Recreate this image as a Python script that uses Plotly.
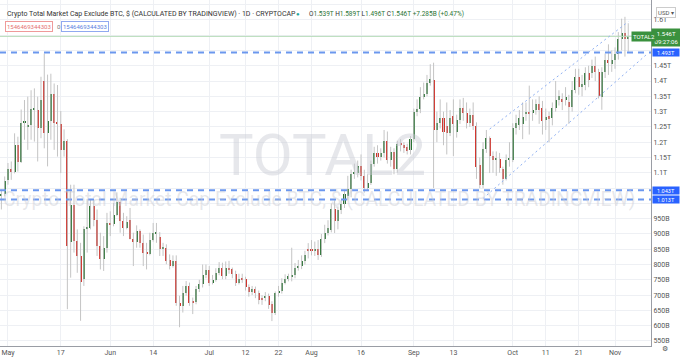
import pandas as pd
import plotly.graph_objects as go

# ---------------- data (values in billions USD) ----------------
start_date = "2021-04-29"
opens = [1027,1032,1075,1114,1101,1190,1134,1264,1251,1256,1306,1305,1245,1400,1231,1269,1359,1264,1260,1175,
         1204,874,996,877,828,752,917,920,990,947,860,817,855,936,931,963,1004,942,920,944,
         884,873,911,871,839,836,879,902,891,852,855,814,795,811,674,665,708,730,681,678,
         719,736,765,782,739,750,771,790,761,790,784,768,741,754,752,728,711,719,706,692,
         692,698,670,643,706,714,741,754,760,765,790,795,811,847,847,844,852,830,884,903,
         914,981,941,979,999,1025,1046,1096,1100,1122,1090,1050,1068,1129,1166,1153,1166,1205,1142,1169,
         1112,1196,1191,1185,1174,1212,1299,1307,1348,1359,1394,1405,1240,1263,1278,1253,1231,1285,1234,1272,
         1313,1296,1263,1288,1253,1125,1060,1177,1213,1154,1141,1145,1112,1080,1141,1143,1246,1257,1260,1295,
         1300,1297,1306,1325,1311,1273,1286,1278,1311,1338,1340,1338,1333,1314,1371,1414,1381,1387,1427,1427,
         1449,1430,1347,1430,1468,1457,1468,1490,1536,1557,1539]
highs = [1045,1088,1132,1137,1229,1218,1307,1338,1349,1370,1376,1349,1414,1490,1421,1424,1392,1387,1302,1242,
         1210,1061,1061,915,871,925,1014,1012,1012,980,904,893,969,974,1001,1036,1018,969,958,985,
         904,928,915,898,871,904,936,936,906,871,866,833,830,830,698,730,746,741,692,730,
         750,800,800,795,766,788,808,806,810,812,790,780,770,770,760,735,730,728,715,700,
         710,705,680,712,730,755,768,770,855,805,815,830,845,870,880,875,880,900,930,945,
         1000,1010,990,1010,1045,1090,1110,1130,1140,1160,1110,1095,1140,1185,1190,1180,1240,1235,1185,1180,
         1205,1210,1200,1195,1220,1310,1340,1380,1395,1420,1455,1460,1300,1340,1300,1330,1305,1340,1290,1340,
         1345,1330,1310,1330,1265,1150,1200,1240,1219,1170,1170,1165,1120,1160,1200,1262,1290,1305,1330,1330,
         1385,1340,1340,1350,1335,1310,1300,1330,1400,1370,1360,1380,1355,1400,1440,1440,1420,1445,1450,1470,
         1480,1440,1445,1490,1520,1500,1510,1560,1604,1610,1589]
lows = [980,1023,1061,1077,1098,1104,1132,1208,1175,1208,1202,1137,1213,1180,1121,1208,1175,1153,1099,1153,
        654,757,839,773,616,730,839,915,925,828,784,779,839,893,925,958,904,893,915,882,
        795,855,855,795,784,830,875,871,828,828,801,784,790,665,595,643,698,665,638,670,
        710,725,755,730,735,744,765,752,752,770,755,730,735,740,715,695,700,690,670,668,
        680,655,615,635,695,705,735,745,745,755,780,785,800,820,830,828,815,825,870,895,
        905,903,915,965,985,1010,1020,1080,1085,1075,1035,1040,1060,1120,1130,1140,1150,1130,1120,1095,
        1100,1170,1165,1160,1160,1200,1285,1295,1340,1350,1385,1050,1200,1245,1190,1160,1220,1155,1215,1260,
        1270,1245,1250,1240,1080,1050,1050,1165,1099,1100,1090,1100,1061,1075,1120,1135,1225,1240,1210,1270,
        1225,1270,1290,1260,1225,1240,1200,1255,1300,1320,1305,1320,1260,1300,1360,1355,1350,1370,1380,1410,
        1400,1343,1306,1410,1420,1430,1440,1470,1500,1480,1496]
closes = [1032,1074,1114,1101,1190,1134,1264,1269,1256,1307,1313,1245,1338,1231,1269,1359,1262,1262,1175,1204,
          860,996,877,828,743,915,920,990,947,860,817,855,936,931,963,1004,942,920,938,884,
          873,911,871,839,836,879,904,906,852,855,812,795,811,674,665,708,730,674,674,719,
          736,765,782,739,750,771,790,761,790,784,768,741,752,750,728,711,721,706,685,685,
          698,667,643,706,714,741,754,761,765,790,795,811,830,845,845,852,830,884,904,920,
          981,941,979,999,1031,1046,1096,1103,1122,1090,1050,1068,1129,1166,1153,1166,1205,1142,1169,1112,
          1194,1191,1180,1172,1212,1299,1307,1348,1359,1394,1408,1240,1263,1278,1234,1231,1278,1259,1272,1313,
          1296,1263,1288,1253,1120,1060,1177,1213,1154,1141,1148,1116,1080,1141,1150,1246,1262,1278,1282,1300,
          1295,1306,1325,1306,1268,1284,1275,1311,1338,1351,1333,1347,1314,1371,1414,1379,1390,1427,1403,1449,
          1430,1351,1430,1468,1460,1468,1488,1536,1557,1539,1546]

# horizontal levels and channel trendlines (billions)
level_high = 1493
level_low1 = 1043
level_low2 = 1013
last_price = 1546
chan_upper_idx = [148, 190]
chan_upper_val = [1243, 1594]
chan_lower_idx = [146, 196]
chan_lower_val = [1016, 1491]

# axis ticks (labelled); a grid line is drawn every 50B
y_tick_vals = [550,600,650,700,750,800,850,900,950,1100,1150,1200,1250,1300,1350,1400,1450,1600]
y_tick_text = ["550B","600B","650B","700B","750B","800B","850B","900B","950B","1.1T","1.15T","1.2T",
               "1.25T","1.3T","1.35T","1.4T","1.45T","1.6T"]
x_tick_dates = ["2021-05-01","2021-05-17","2021-06-01","2021-06-14","2021-07-01","2021-07-12","2021-07-22",
                "2021-08-01","2021-08-16","2021-09-01","2021-09-13","2021-10-01","2021-10-11","2021-10-21","2021-11-01"]
x_tick_text = ["May","17","Jun","14","Jul","12","22","Aug","16","Sep","13","Oct","11","21","Nov"]

# ---------------- figure ----------------
dates = pd.date_range(start_date, periods=len(opens), freq="D")
day = pd.Timedelta(days=1)
GREEN = "#2a7434"
RED = "#d3322b"
WICK = "#c4c4c4"
GRID = "#eef0f4"

wx, wy = [], []
for d, h, l in zip(dates, highs, lows):
    wx += [d, d, None]
    wy += [l, h, None]

base = [min(o, c) for o, c in zip(opens, closes)]
height = [max(abs(c - o), 3) for o, c in zip(opens, closes)]
colors = [GREEN if c >= o else RED for o, c in zip(opens, closes)]

fig = go.Figure()
fig.add_trace(go.Scatter(x=wx, y=wy, mode="lines", line=dict(color=WICK, width=1),
                         hoverinfo="skip", showlegend=False))
fig.add_trace(go.Bar(x=dates, y=height, base=base, marker=dict(color=colors, line=dict(width=0)),
                     width=0.62 * 86400000, showlegend=False))

x0 = dates[0] - 0.42 * day
x1 = dates[0] + 196.9 * day

# horizontal lines
for lv in [level_high, level_low1, level_low2]:
    fig.add_trace(go.Scatter(x=[x0, x1], y=[lv, lv], mode="lines",
                             line=dict(color="#6b97ee", width=2, dash="6px,5px"),
                             hoverinfo="skip", showlegend=False))
fig.add_trace(go.Scatter(x=[x0, x1], y=[last_price, last_price], mode="lines",
                         line=dict(color="#b7dcb9", width=1), hoverinfo="skip", showlegend=False))
# channel
fig.add_trace(go.Scatter(x=[dates[0] + i * day for i in chan_upper_idx], y=chan_upper_val, mode="lines",
                         line=dict(color="#8fb0f2", width=1, dash="2px,3px"), hoverinfo="skip", showlegend=False))
fig.add_trace(go.Scatter(x=[dates[0] + i * day for i in chan_lower_idx], y=chan_lower_val, mode="lines",
                         line=dict(color="#8fb0f2", width=1, dash="2px,3px"), hoverinfo="skip", showlegend=False))

FONT = "Roboto, 'Open Sans', sans-serif"
H = 346.0

def py(pix):
    return 1 - pix / H

ann = []
# watermark
ann.append(dict(text="TOTAL2", xref="paper", yref="paper", x=0.495, y=py(155), showarrow=False,
                font=dict(family=FONT, size=58, color="rgba(200,202,210,0.45)")))
ann.append(dict(text="Crypto Total Market Cap Exclude BTC, $ (CALCULATED BY TRADINGVIEW)", xref="paper",
                yref="paper", x=2 / 651, y=py(199), xanchor="left", showarrow=False, borderpad=0,
                font=dict(family=FONT, size=19.3, color="rgba(200,202,210,0.45)")))
# header
ann.append(dict(text="Crypto Total Market Cap Exclude BTC, $ (CALCULATED BY TRADINGVIEW) · 1D · CRYPTOCAP",
                xref="paper", yref="paper", x=5 / 651, y=py(8), xanchor="left", showarrow=False,
                font=dict(family=FONT, size=7, color="#333")))
ann.append(dict(text="<span style='color:#26a69a'>●</span>", xref="paper", yref="paper", x=298 / 651, y=py(8),
                showarrow=False, font=dict(family=FONT, size=6)))
ohlc = ("O<span style='color:#2a7434'>1.539T</span> H<span style='color:#2a7434'>1.589T</span> "
        "L<span style='color:#2a7434'>1.496T</span> C<span style='color:#2a7434'>1.546T</span> "
        "<span style='color:#2a7434'>+7.285B (+0.47%)</span>")
ann.append(dict(text=ohlc, xref="paper", yref="paper", x=307 / 651, y=py(8), xanchor="left", showarrow=False,
                font=dict(family=FONT, size=6.5, color="#333")))
ann.append(dict(text="1546469344303", xref="paper", yref="paper", x=5 / 651, y=py(21), xanchor="left",
                showarrow=False, bordercolor="#ef9a9a", borderwidth=1, borderpad=1, bgcolor="white",
                font=dict(family=FONT, size=6, color="#e57373")))
ann.append(dict(text="0", xref="paper", yref="paper", x=55 / 651, y=py(21), showarrow=False,
                font=dict(family=FONT, size=6, color="#777")))
ann.append(dict(text="1546469344303", xref="paper", yref="paper", x=61 / 651, y=py(21), xanchor="left",
                showarrow=False, bordercolor="#90a9f0", borderwidth=1, borderpad=1, bgcolor="white",
                font=dict(family=FONT, size=6, color="#5b7fe0")))
# price labels on the right scale
ann.append(dict(text="1.546T<br>09:27:06", xref="paper", yref="y", x=1.0, y=last_price - 5, xanchor="left",
                showarrow=False, bgcolor="#3a913e", width=27, align="center", borderpad=1,
                font=dict(family=FONT, size=6, color="white")))
for lv, txt in [(level_high, "1.493T"), (level_low1, "1.043T"), (level_low2, "1.013T")]:
    ann.append(dict(text=txt, xref="paper", yref="y", x=1.002, y=lv, xanchor="left", showarrow=False,
                    bgcolor="#2962ff", width=26, height=7, align="center", borderpad=0,
                    font=dict(family=FONT, size=5.5, color="white")))
ann.append(dict(text="TOTAL2", xref="x", yref="y", x=dates[-1] + 0.7 * day, y=last_price, xanchor="left",
                showarrow=False, bgcolor="#3a913e", borderpad=1, font=dict(family=FONT, size=6, color="white")))
ann.append(dict(text="USD ▾", xref="paper", yref="paper", x=1.0 + 5 / 651, y=py(7), xanchor="left",
                showarrow=False, bordercolor="#ccc", borderwidth=1, borderpad=1, bgcolor="white",
                font=dict(family=FONT, size=6, color="#555")))
ann.append(dict(text="⚙", xref="paper", yref="paper", x=1.0 + 14 / 651, y=py(355), xanchor="center",
                showarrow=False, font=dict(family="DejaVu Sans", size=7, color="#555")))

fig.update_layout(
    width=680, height=360,
    margin=dict(l=0, r=29, t=0, b=14),
    paper_bgcolor="white", plot_bgcolor="white",
    showlegend=False, bargap=0,
    annotations=ann,
    xaxis=dict(type="date", range=[x0, x1], tickvals=x_tick_dates, ticktext=x_tick_text,
               showgrid=True, gridcolor=GRID, gridwidth=1, showline=True, linecolor="#9a9da5",
               linewidth=1, ticks="", tickfont=dict(family=FONT, size=7, color="#555"), zeroline=False,
               fixedrange=True),
    yaxis=dict(side="right", range=[533.6, 1665], tickvals=y_tick_vals, ticktext=y_tick_text,
               showgrid=True, gridcolor=GRID, gridwidth=1, showline=True, linecolor="#9a9da5",
               linewidth=1, ticks="", tickfont=dict(family=FONT, size=7, color="#555"), zeroline=False,
               minor=dict(tick0=0, dtick=50, showgrid=True, gridcolor=GRID, gridwidth=1, ticks=""),
               fixedrange=True),
)

fig.write_html("out.html", config={"displayModeBar": False},
               post_script="document.body.style.margin='0';document.body.style.overflow='hidden';")
